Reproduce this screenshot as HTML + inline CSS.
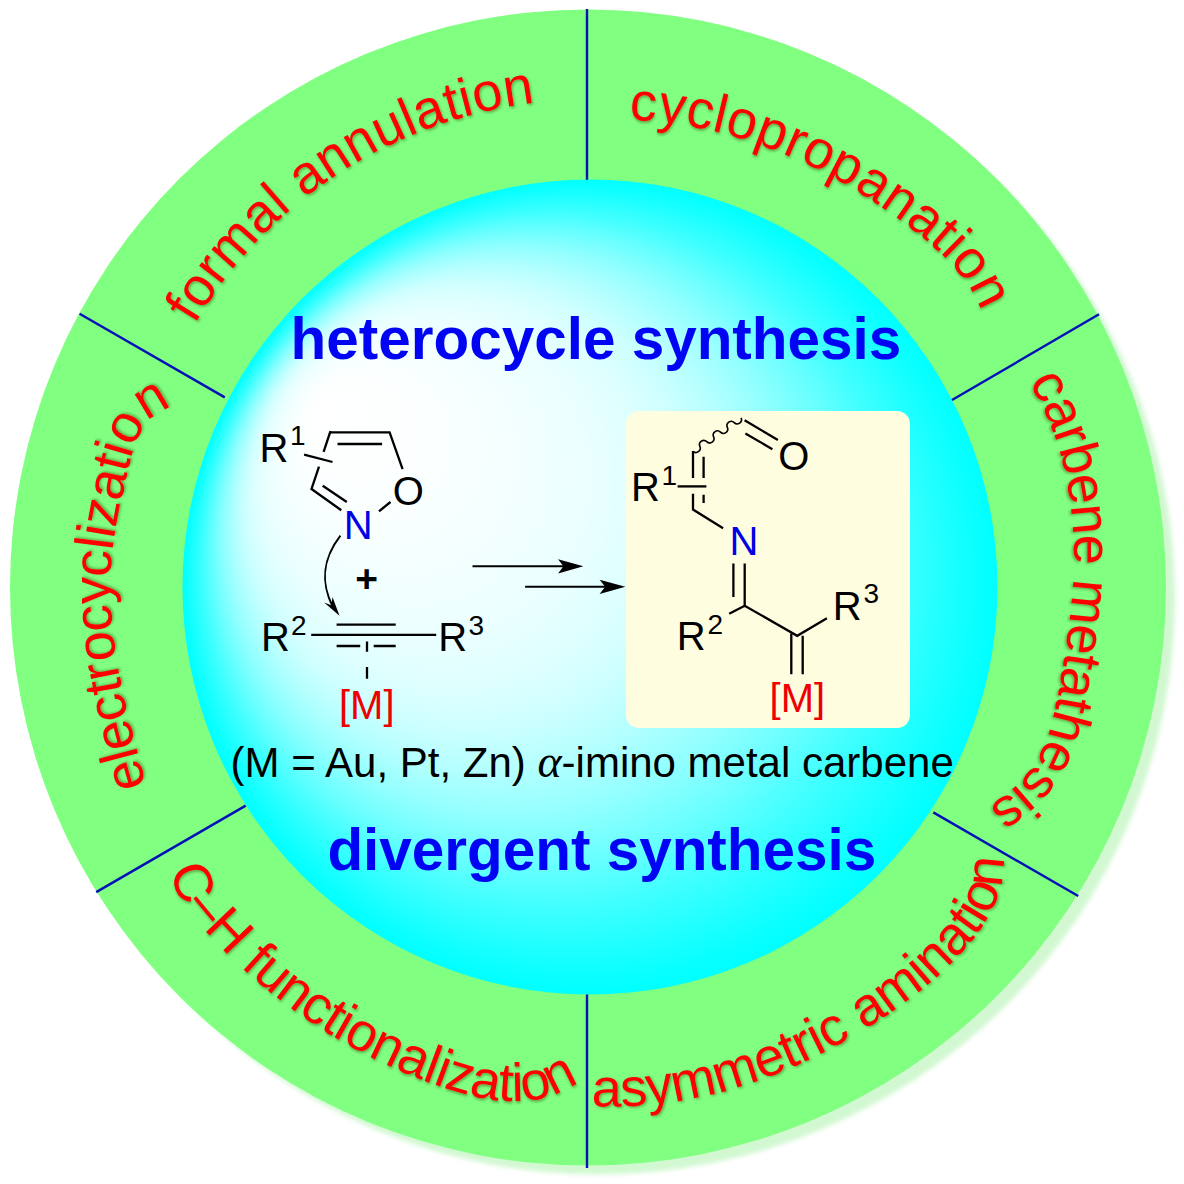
<!DOCTYPE html>
<html><head><meta charset="utf-8"><title>graphical abstract</title>
<style>
html,body{margin:0;padding:0;background:#fff;}
svg{display:block;font-family:"Liberation Sans",Arial,sans-serif;}
</style></head><body>
<svg width="1184" height="1184" viewBox="0 0 1184 1184">
<defs>
<radialGradient id="g" gradientUnits="userSpaceOnUse" cx="590" cy="587" r="407.5" fx="322" fy="406">
<stop offset="0" stop-color="#ffffff"/><stop offset="0.15" stop-color="#fcffff"/><stop offset="0.28" stop-color="#f4ffff"/><stop offset="0.4" stop-color="#eaffff"/><stop offset="0.48" stop-color="#deffff"/><stop offset="0.55" stop-color="#cdffff"/><stop offset="0.62" stop-color="#b4ffff"/><stop offset="0.7" stop-color="#92ffff"/><stop offset="0.78" stop-color="#69ffff"/><stop offset="0.85" stop-color="#42ffff"/><stop offset="0.92" stop-color="#20ffff"/><stop offset="0.97" stop-color="#0affff"/><stop offset="1.0" stop-color="#00ffff"/>
</radialGradient>
<filter id="blur" x="-5%" y="-5%" width="110%" height="110%"><feGaussianBlur stdDeviation="2.2"/></filter>
<filter id="sp1" x="-5%" y="-5%" width="110%" height="110%"><feDropShadow dx="1.3" dy="1.6" stdDeviation="0.9" flood-color="#203010" flood-opacity="0.38"/></filter>
<filter id="sp2" x="-5%" y="-5%" width="110%" height="110%"><feDropShadow dx="0.4" dy="2.0" stdDeviation="0.9" flood-color="#203010" flood-opacity="0.38"/></filter>
<filter id="sp3" x="-5%" y="-5%" width="110%" height="110%"><feDropShadow dx="-1.6" dy="1.3" stdDeviation="0.9" flood-color="#203010" flood-opacity="0.38"/></filter>
<filter id="sp4" x="-5%" y="-5%" width="110%" height="110%"><feDropShadow dx="1.6" dy="1.2" stdDeviation="0.9" flood-color="#203010" flood-opacity="0.38"/></filter>
<filter id="sp5" x="-5%" y="-5%" width="110%" height="110%"><feDropShadow dx="0.6" dy="2.0" stdDeviation="0.9" flood-color="#203010" flood-opacity="0.38"/></filter>
<filter id="sp6" x="-5%" y="-5%" width="110%" height="110%"><feDropShadow dx="1.6" dy="-1.2" stdDeviation="0.9" flood-color="#203010" flood-opacity="0.38"/></filter>
<path id="p1" d="M194.6 324.5 C195.2 323.7 196.7 321.1 197.7 319.4 C198.7 317.7 199.8 316.0 200.8 314.3 C201.9 312.6 202.9 310.9 204.0 309.2 C205.1 307.5 206.2 305.8 207.3 304.1 C208.4 302.5 209.5 300.8 210.6 299.1 C211.7 297.5 212.8 295.8 214.0 294.2 C215.1 292.5 216.3 290.9 217.4 289.3 C218.6 287.7 219.8 286.0 221.0 284.4 C222.1 282.8 223.3 281.2 224.5 279.6 C225.7 278.0 227.0 276.4 228.2 274.9 C229.4 273.3 230.7 271.7 231.9 270.1 C233.2 268.6 234.4 267.0 235.7 265.5 C237.0 263.9 238.2 262.4 239.5 260.9 C240.8 259.4 242.1 257.8 243.4 256.3 C244.8 254.8 246.1 253.3 247.4 251.8 C248.7 250.3 250.1 248.8 251.4 247.4 C252.8 245.9 254.1 244.4 255.5 243.0 C256.9 241.5 258.3 240.1 259.7 238.6 C261.1 237.2 262.5 235.8 263.9 234.4 C265.3 232.9 266.7 231.5 268.1 230.1 C269.5 228.7 271.0 227.3 272.4 226.0 C273.9 224.6 275.3 223.2 276.8 221.8 C278.3 220.5 279.7 219.1 281.2 217.8 C282.7 216.5 284.2 215.1 285.7 213.8 C287.2 212.5 288.7 211.2 290.2 209.9 C291.8 208.6 293.3 207.3 294.8 206.0 C296.4 204.7 297.9 203.4 299.4 202.2 C301.0 200.9 302.6 199.7 304.1 198.4 C305.7 197.2 307.3 196.0 308.9 194.7 C310.5 193.5 312.0 192.3 313.6 191.1 C315.2 189.9 316.9 188.7 318.5 187.6 C320.1 186.4 321.7 185.2 323.3 184.1 C325.0 182.9 326.6 181.8 328.3 180.6 C329.9 179.5 331.6 178.4 333.2 177.3 C334.9 176.1 336.6 175.0 338.2 174.0 C339.9 172.9 341.6 171.8 343.3 170.7 C345.0 169.6 346.7 168.6 348.4 167.5 C350.1 166.5 351.8 165.5 353.5 164.4 C355.2 163.4 357.0 162.4 358.7 161.4 C360.4 160.4 362.2 159.4 363.9 158.4 C365.7 157.5 367.4 156.5 369.2 155.5 C370.9 154.6 372.7 153.6 374.5 152.7 C376.2 151.8 378.0 150.9 379.8 149.9 C381.6 149.0 383.4 148.1 385.1 147.3 C386.9 146.4 388.7 145.5 390.5 144.6 C392.4 143.8 394.2 142.9 396.0 142.1 C397.8 141.2 399.6 140.4 401.4 139.6 C403.3 138.8 405.1 138.0 406.9 137.2 C408.8 136.4 410.6 135.6 412.5 134.9 C414.3 134.1 416.2 133.3 418.0 132.6 C419.9 131.9 421.7 131.1 423.6 130.4 C425.5 129.7 427.3 129.0 429.2 128.3 C431.1 127.6 433.0 126.9 434.9 126.2 C436.7 125.6 438.6 124.9 440.5 124.3 C442.4 123.6 444.3 123.0 446.2 122.4 C448.1 121.7 450.0 121.1 451.9 120.5 C453.8 119.9 455.7 119.3 457.7 118.8 C459.6 118.2 461.5 117.6 463.4 117.1 C465.3 116.5 467.3 116.0 469.2 115.5 C471.1 115.0 473.1 114.5 475.0 114.0 C476.9 113.5 478.9 113.0 480.8 112.5 C482.8 112.0 484.7 111.6 486.7 111.1 C488.6 110.7 490.6 110.2 492.5 109.8 C494.5 109.4 496.4 109.0 498.4 108.6 C500.3 108.2 502.3 107.8 504.3 107.4 C506.2 107.0 508.2 106.7 510.2 106.3 C512.1 106.0 514.1 105.6 516.1 105.3 C518.1 105.0 520.0 104.7 522.0 104.4 C524.0 104.1 526.0 103.8 528.0 103.5 C529.9 103.2 531.9 103.0 533.9 102.7 C535.9 102.5 537.9 102.3 539.9 102.0 C541.9 101.8 543.8 101.6 545.8 101.4 C547.8 101.2 549.8 101.0 551.8 100.8 C553.8 100.7 555.8 100.5 557.8 100.4 C559.8 100.2 562.8 100.0 563.8 100.0"/>
<path id="p2" d="M629.1 119.7 C630.1 119.8 633.1 119.9 635.1 120.0 C637.1 120.1 639.1 120.2 641.1 120.3 C643.1 120.4 645.1 120.6 647.1 120.7 C649.1 120.9 651.1 121.0 653.1 121.2 C655.1 121.4 657.1 121.6 659.1 121.8 C661.0 122.0 663.0 122.3 665.0 122.5 C667.0 122.7 669.0 123.0 671.0 123.3 C672.9 123.5 674.9 123.8 676.9 124.1 C678.9 124.4 680.9 124.7 682.8 125.0 C684.8 125.3 686.8 125.7 688.7 126.0 C690.7 126.4 692.7 126.8 694.6 127.1 C696.6 127.5 698.6 127.9 700.5 128.3 C702.5 128.7 704.4 129.1 706.4 129.6 C708.4 130.0 710.3 130.4 712.2 130.9 C714.2 131.4 716.1 131.8 718.1 132.3 C720.0 132.8 722.0 133.3 723.9 133.8 C725.8 134.3 727.8 134.8 729.7 135.4 C731.6 135.9 733.5 136.4 735.5 137.0 C737.4 137.6 739.3 138.1 741.2 138.7 C743.1 139.3 745.0 139.9 746.9 140.5 C748.8 141.1 750.7 141.8 752.6 142.4 C754.5 143.0 756.4 143.7 758.3 144.3 C760.2 145.0 762.1 145.7 764.0 146.3 C765.8 147.0 767.7 147.7 769.6 148.4 C771.5 149.1 773.3 149.8 775.2 150.6 C777.1 151.3 778.9 152.0 780.8 152.8 C782.6 153.5 784.5 154.3 786.3 155.1 C788.2 155.8 790.0 156.6 791.8 157.4 C793.7 158.2 795.5 159.0 797.3 159.8 C799.2 160.7 801.0 161.5 802.8 162.3 C804.6 163.2 806.4 164.0 808.2 164.9 C810.0 165.7 811.8 166.6 813.6 167.5 C815.4 168.4 817.2 169.2 819.0 170.2 C820.8 171.1 822.6 172.0 824.3 172.9 C826.1 173.8 827.9 174.7 829.6 175.7 C831.4 176.6 833.2 177.6 834.9 178.5 C836.7 179.5 838.4 180.5 840.2 181.4 C841.9 182.4 843.6 183.4 845.4 184.4 C847.1 185.4 848.8 186.4 850.6 187.4 C852.3 188.5 854.0 189.5 855.7 190.5 C857.4 191.6 859.1 192.6 860.8 193.7 C862.5 194.7 864.2 195.8 865.9 196.8 C867.6 197.9 869.3 199.0 871.0 200.1 C872.6 201.2 874.3 202.3 876.0 203.4 C877.6 204.5 879.3 205.6 880.9 206.7 C882.6 207.9 884.2 209.0 885.9 210.1 C887.5 211.3 889.2 212.4 890.8 213.6 C892.4 214.7 894.1 215.9 895.7 217.1 C897.3 218.3 898.9 219.4 900.5 220.6 C902.1 221.8 903.7 223.0 905.3 224.2 C906.9 225.4 908.5 226.6 910.1 227.9 C911.7 229.1 913.3 230.3 914.8 231.5 C916.4 232.8 918.0 234.0 919.5 235.3 C921.1 236.5 922.7 237.8 924.2 239.0 C925.7 240.3 927.3 241.6 928.8 242.9 C930.3 244.2 931.8 245.5 933.3 246.8 C934.8 248.1 936.3 249.5 937.8 250.8 C939.3 252.2 940.7 253.5 942.2 254.9 C943.6 256.3 945.0 257.7 946.5 259.1 C947.9 260.6 949.2 262.0 950.6 263.5 C952.0 264.9 953.3 266.4 954.6 267.9 C955.9 269.4 957.2 271.0 958.5 272.5 C959.8 274.1 961.0 275.6 962.2 277.2 C963.4 278.8 964.6 280.4 965.7 282.1 C966.9 283.7 968.0 285.4 969.1 287.1 C970.1 288.8 971.2 290.5 972.2 292.2 C973.2 293.9 974.1 295.7 975.0 297.5 C975.9 299.2 976.8 301.1 977.6 302.9 C978.5 304.7 979.2 306.5 980.0 308.4 C980.7 310.3 981.4 312.2 982.0 314.1 C982.6 316.0 983.2 317.9 983.7 319.8 C984.2 321.7 984.6 323.7 985.1 325.6 C985.5 327.6 985.8 329.6 986.1 331.6 C986.4 333.5 986.7 336.5 986.8 337.5"/>
<path id="p3" d="M1028.4 382.2 C1028.9 383.0 1030.6 385.6 1031.6 387.3 C1032.6 389.0 1033.6 390.7 1034.6 392.4 C1035.6 394.2 1036.6 395.9 1037.6 397.7 C1038.5 399.4 1039.5 401.2 1040.4 403.0 C1041.3 404.7 1042.2 406.5 1043.1 408.3 C1043.9 410.1 1044.8 411.9 1045.6 413.8 C1046.4 415.6 1047.3 417.4 1048.0 419.3 C1048.8 421.1 1049.6 422.9 1050.4 424.8 C1051.1 426.6 1051.8 428.5 1052.5 430.4 C1053.3 432.2 1053.9 434.1 1054.6 436.0 C1055.3 437.9 1055.9 439.8 1056.6 441.7 C1057.2 443.6 1057.8 445.5 1058.4 447.4 C1059.0 449.3 1059.6 451.2 1060.1 453.1 C1060.7 455.1 1061.2 457.0 1061.7 458.9 C1062.2 460.9 1062.7 462.8 1063.2 464.7 C1063.7 466.7 1064.2 468.6 1064.6 470.6 C1065.0 472.5 1065.5 474.5 1065.9 476.4 C1066.3 478.4 1066.7 480.4 1067.0 482.3 C1067.4 484.3 1067.8 486.3 1068.1 488.2 C1068.4 490.2 1068.8 492.2 1069.1 494.1 C1069.4 496.1 1069.7 498.1 1069.9 500.1 C1070.2 502.1 1070.5 504.1 1070.7 506.0 C1070.9 508.0 1071.2 510.0 1071.4 512.0 C1071.6 514.0 1071.8 516.0 1071.9 518.0 C1072.1 520.0 1072.3 522.0 1072.4 524.0 C1072.6 525.9 1072.7 527.9 1072.8 529.9 C1072.9 531.9 1073.0 533.9 1073.1 535.9 C1073.2 537.9 1073.3 539.9 1073.3 541.9 C1073.4 543.9 1073.4 545.9 1073.5 547.9 C1073.5 549.9 1073.5 551.9 1073.5 553.9 C1073.5 555.9 1073.5 557.9 1073.5 559.9 C1073.5 561.9 1073.5 563.9 1073.4 565.9 C1073.4 567.9 1073.3 569.9 1073.3 571.9 C1073.2 573.9 1073.1 575.9 1073.0 577.9 C1072.9 579.9 1072.8 581.9 1072.7 583.9 C1072.6 585.9 1072.5 587.9 1072.4 589.9 C1072.2 591.9 1072.1 593.9 1071.9 595.9 C1071.8 597.9 1071.6 599.9 1071.4 601.9 C1071.3 603.9 1071.1 605.8 1070.9 607.8 C1070.7 609.8 1070.5 611.8 1070.3 613.8 C1070.1 615.8 1069.9 617.8 1069.6 619.8 C1069.4 621.8 1069.2 623.7 1068.9 625.7 C1068.7 627.7 1068.4 629.7 1068.2 631.7 C1067.9 633.7 1067.7 635.6 1067.4 637.6 C1067.1 639.6 1066.8 641.6 1066.5 643.6 C1066.2 645.5 1066.0 647.5 1065.7 649.5 C1065.4 651.5 1065.0 653.5 1064.7 655.4 C1064.4 657.4 1064.1 659.4 1063.8 661.4 C1063.5 663.3 1063.1 665.3 1062.8 667.3 C1062.5 669.2 1062.1 671.2 1061.8 673.2 C1061.4 675.2 1061.1 677.1 1060.7 679.1 C1060.4 681.1 1060.0 683.0 1059.6 685.0 C1059.3 687.0 1058.9 688.9 1058.5 690.9 C1058.2 692.9 1057.8 694.8 1057.4 696.8 C1057.0 698.8 1056.7 700.7 1056.3 702.7 C1055.9 704.6 1055.5 706.6 1055.1 708.6 C1054.6 710.5 1054.2 712.5 1053.7 714.4 C1053.3 716.4 1052.8 718.3 1052.3 720.2 C1051.8 722.2 1051.3 724.1 1050.8 726.0 C1050.2 728.0 1049.7 729.9 1049.1 731.8 C1048.5 733.7 1047.8 735.6 1047.2 737.5 C1046.5 739.4 1045.8 741.2 1045.0 743.1 C1044.3 744.9 1043.5 746.8 1042.7 748.6 C1041.9 750.4 1041.0 752.2 1040.1 754.0 C1039.2 755.8 1038.3 757.6 1037.3 759.3 C1036.2 761.0 1035.2 762.7 1034.1 764.4 C1033.0 766.1 1031.9 767.7 1030.7 769.3 C1029.5 770.9 1028.3 772.5 1027.0 774.1 C1025.7 775.6 1024.4 777.1 1023.1 778.6 C1021.7 780.1 1020.3 781.5 1018.9 782.9 C1017.5 784.3 1016.0 785.7 1014.6 787.1 C1013.1 788.4 1011.6 789.7 1010.1 791.0 C1008.5 792.3 1007.0 793.6 1005.4 794.8 C1003.8 796.0 1002.2 797.2 1000.6 798.4 C999.0 799.5 997.3 800.7 995.6 801.8 C994.0 802.9 992.3 804.0 990.6 805.0 C988.9 806.1 987.2 807.1 985.5 808.1 C983.7 809.2 982.0 810.1 980.2 811.1 C978.5 812.1 976.7 813.0 974.9 813.9 C973.2 814.8 971.4 815.7 969.6 816.5 C967.7 817.4 965.0 818.6 964.1 819.0"/>
<path id="p4" d="M591.6 1105.8 C592.6 1105.9 595.6 1106.0 597.6 1106.1 C599.6 1106.2 601.6 1106.3 603.6 1106.3 C605.6 1106.4 607.6 1106.4 609.6 1106.4 C611.6 1106.4 613.6 1106.4 615.6 1106.4 C617.6 1106.4 619.6 1106.4 621.6 1106.3 C623.6 1106.3 625.6 1106.2 627.6 1106.1 C629.6 1106.1 631.6 1106.0 633.6 1105.9 C635.6 1105.8 637.6 1105.6 639.6 1105.5 C641.6 1105.4 643.6 1105.2 645.6 1105.1 C647.6 1104.9 649.5 1104.7 651.5 1104.5 C653.5 1104.3 655.5 1104.1 657.5 1103.9 C659.5 1103.7 661.5 1103.4 663.5 1103.2 C665.5 1102.9 667.4 1102.7 669.4 1102.4 C671.4 1102.1 673.4 1101.8 675.4 1101.5 C677.3 1101.2 679.3 1100.9 681.3 1100.6 C683.2 1100.3 685.2 1099.9 687.2 1099.6 C689.2 1099.2 691.1 1098.8 693.1 1098.4 C695.0 1098.1 697.0 1097.7 699.0 1097.2 C700.9 1096.8 702.9 1096.4 704.8 1096.0 C706.8 1095.5 708.7 1095.1 710.7 1094.6 C712.6 1094.2 714.6 1093.7 716.5 1093.2 C718.4 1092.7 720.4 1092.2 722.3 1091.7 C724.2 1091.2 726.2 1090.7 728.1 1090.1 C730.0 1089.6 731.9 1089.0 733.9 1088.5 C735.8 1087.9 737.7 1087.3 739.6 1086.7 C741.5 1086.2 743.4 1085.6 745.3 1084.9 C747.2 1084.3 749.1 1083.7 751.0 1083.1 C752.9 1082.4 754.8 1081.8 756.7 1081.1 C758.6 1080.5 760.5 1079.8 762.4 1079.1 C764.3 1078.5 766.1 1077.8 768.0 1077.1 C769.9 1076.4 771.7 1075.7 773.6 1074.9 C775.5 1074.2 777.3 1073.5 779.2 1072.7 C781.0 1072.0 782.9 1071.2 784.7 1070.5 C786.6 1069.7 788.4 1068.9 790.3 1068.1 C792.1 1067.3 793.9 1066.5 795.8 1065.7 C797.6 1064.9 799.4 1064.1 801.2 1063.3 C803.1 1062.4 804.9 1061.6 806.7 1060.8 C808.5 1059.9 810.3 1059.0 812.1 1058.2 C813.9 1057.3 815.7 1056.4 817.5 1055.5 C819.3 1054.6 821.1 1053.7 822.9 1052.8 C824.6 1051.9 826.4 1051.0 828.2 1050.1 C830.0 1049.2 831.7 1048.2 833.5 1047.3 C835.3 1046.3 837.0 1045.4 838.8 1044.4 C840.5 1043.5 842.3 1042.5 844.0 1041.5 C845.8 1040.5 847.5 1039.5 849.2 1038.5 C851.0 1037.5 852.7 1036.5 854.4 1035.5 C856.1 1034.5 857.9 1033.5 859.6 1032.4 C861.3 1031.4 863.0 1030.4 864.7 1029.3 C866.4 1028.3 868.1 1027.2 869.8 1026.1 C871.5 1025.1 873.2 1024.0 874.8 1022.9 C876.5 1021.8 878.2 1020.8 879.9 1019.7 C881.5 1018.6 883.2 1017.5 884.9 1016.3 C886.5 1015.2 888.2 1014.1 889.8 1013.0 C891.5 1011.9 893.1 1010.7 894.8 1009.6 C896.4 1008.4 898.1 1007.3 899.7 1006.1 C901.3 1004.9 902.9 1003.8 904.5 1002.6 C906.2 1001.4 907.8 1000.2 909.4 999.0 C911.0 997.8 912.6 996.6 914.1 995.4 C915.7 994.2 917.3 992.9 918.9 991.7 C920.4 990.5 922.0 989.2 923.5 987.9 C925.1 986.7 926.6 985.4 928.2 984.1 C929.7 982.8 931.2 981.5 932.7 980.2 C934.3 978.9 935.8 977.6 937.2 976.3 C938.7 974.9 940.2 973.6 941.7 972.2 C943.2 970.9 944.6 969.5 946.1 968.1 C947.5 966.7 948.9 965.4 950.4 963.9 C951.8 962.5 953.2 961.1 954.6 959.7 C956.0 958.3 957.4 956.8 958.7 955.4 C960.1 953.9 961.5 952.4 962.8 950.9 C964.2 949.5 965.5 948.0 966.8 946.5 C968.1 944.9 969.4 943.4 970.7 941.9 C971.9 940.3 973.2 938.8 974.4 937.2 C975.6 935.6 976.9 934.0 978.0 932.4 C979.2 930.8 980.4 929.2 981.5 927.5 C982.6 925.9 983.7 924.2 984.8 922.5 C985.9 920.8 986.9 919.1 987.9 917.4 C988.9 915.6 989.9 913.9 990.8 912.1 C991.7 910.3 992.6 908.6 993.5 906.7 C994.3 904.9 995.1 903.1 995.9 901.2 C996.6 899.4 997.4 897.5 998.0 895.6 C998.7 893.7 999.3 891.8 999.8 889.9 C1000.4 888.0 1000.8 886.0 1001.3 884.1 C1001.7 882.1 1002.0 880.2 1002.3 878.2 C1002.6 876.2 1002.8 874.2 1003.0 872.2 C1003.1 870.2 1003.2 868.2 1003.1 866.2 C1003.1 864.2 1003.0 862.2 1002.8 860.2 C1002.7 858.2 1002.4 856.3 1002.0 854.3 C1001.7 852.3 1001.2 850.4 1000.7 848.4 C1000.2 846.5 999.6 844.6 998.9 842.7 C998.2 840.9 997.4 839.0 996.6 837.2 C995.7 835.4 994.2 832.8 993.8 831.9"/>
<path id="p5" d="M171.6 870.0 C171.7 871.0 171.8 874.0 172.1 876.0 C172.4 878.0 172.8 879.9 173.3 881.9 C173.8 883.8 174.4 885.7 175.1 887.6 C175.8 889.5 176.6 891.3 177.4 893.1 C178.2 894.9 179.2 896.7 180.1 898.5 C181.1 900.2 182.2 901.9 183.3 903.6 C184.3 905.3 185.5 906.9 186.7 908.5 C187.8 910.1 189.1 911.7 190.3 913.3 C191.5 914.9 192.8 916.4 194.1 918.0 C195.4 919.5 196.7 921.0 198.0 922.5 C199.3 924.0 200.6 925.5 201.9 927.0 C203.3 928.5 204.6 930.0 205.9 931.5 C207.3 933.0 208.6 934.5 210.0 935.9 C211.3 937.4 212.7 938.9 214.1 940.3 C215.4 941.8 216.8 943.2 218.2 944.7 C219.6 946.1 221.0 947.5 222.4 949.0 C223.8 950.4 225.2 951.8 226.6 953.2 C228.0 954.6 229.5 956.0 230.9 957.4 C232.3 958.8 233.8 960.2 235.2 961.6 C236.7 963.0 238.1 964.3 239.6 965.7 C241.0 967.1 242.5 968.4 244.0 969.8 C245.5 971.1 247.0 972.5 248.4 973.8 C249.9 975.1 251.4 976.5 252.9 977.8 C254.4 979.1 256.0 980.4 257.5 981.7 C259.0 983.0 260.5 984.3 262.1 985.6 C263.6 986.9 265.1 988.1 266.7 989.4 C268.2 990.7 269.8 991.9 271.3 993.2 C272.9 994.4 274.5 995.7 276.0 996.9 C277.6 998.2 279.2 999.4 280.8 1000.6 C282.4 1001.8 283.9 1003.0 285.5 1004.2 C287.1 1005.4 288.8 1006.6 290.4 1007.8 C292.0 1009.0 293.6 1010.2 295.2 1011.3 C296.8 1012.5 298.5 1013.7 300.1 1014.8 C301.7 1016.0 303.4 1017.1 305.0 1018.2 C306.7 1019.4 308.3 1020.5 310.0 1021.6 C311.7 1022.7 313.3 1023.8 315.0 1024.9 C316.7 1026.0 318.4 1027.1 320.0 1028.2 C321.7 1029.3 323.4 1030.3 325.1 1031.4 C326.8 1032.5 328.5 1033.5 330.2 1034.6 C331.9 1035.6 333.6 1036.6 335.3 1037.7 C337.1 1038.7 338.8 1039.7 340.5 1040.7 C342.2 1041.7 344.0 1042.7 345.7 1043.7 C347.4 1044.7 349.2 1045.7 350.9 1046.6 C352.7 1047.6 354.4 1048.6 356.2 1049.5 C358.0 1050.5 359.7 1051.4 361.5 1052.3 C363.3 1053.3 365.0 1054.2 366.8 1055.1 C368.6 1056.0 370.4 1056.9 372.2 1057.8 C374.0 1058.7 375.8 1059.6 377.6 1060.5 C379.4 1061.4 381.2 1062.2 383.0 1063.1 C384.8 1063.9 386.6 1064.8 388.4 1065.6 C390.2 1066.5 392.0 1067.3 393.9 1068.1 C395.7 1068.9 397.5 1069.7 399.3 1070.5 C401.2 1071.3 403.0 1072.1 404.9 1072.9 C406.7 1073.7 408.5 1074.4 410.4 1075.2 C412.2 1076.0 414.1 1076.7 416.0 1077.5 C417.8 1078.2 419.7 1078.9 421.5 1079.6 C423.4 1080.4 425.3 1081.1 427.2 1081.8 C429.0 1082.5 430.9 1083.2 432.8 1083.8 C434.7 1084.5 436.5 1085.2 438.4 1085.9 C440.3 1086.5 442.2 1087.2 444.1 1087.8 C446.0 1088.4 447.9 1089.1 449.8 1089.7 C451.7 1090.3 453.6 1090.9 455.5 1091.4 C457.5 1092.0 459.4 1092.6 461.3 1093.1 C463.2 1093.6 465.2 1094.2 467.1 1094.6 C469.0 1095.1 471.0 1095.6 472.9 1096.1 C474.9 1096.5 476.8 1096.9 478.8 1097.3 C480.8 1097.7 482.7 1098.1 484.7 1098.4 C486.7 1098.8 488.6 1099.1 490.6 1099.4 C492.6 1099.7 494.6 1099.9 496.6 1100.1 C498.6 1100.4 500.6 1100.5 502.6 1100.7 C504.5 1100.8 506.5 1101.0 508.5 1101.0 C510.5 1101.1 512.5 1101.2 514.5 1101.2 C516.5 1101.1 518.5 1101.1 520.5 1101.0 C522.5 1100.9 524.5 1100.8 526.5 1100.6 C528.5 1100.5 530.5 1100.2 532.5 1100.0 C534.5 1099.7 536.4 1099.4 538.4 1099.0 C540.4 1098.6 542.3 1098.2 544.3 1097.7 C546.2 1097.2 548.1 1096.7 550.0 1096.1 C551.9 1095.5 553.8 1094.8 555.7 1094.1 C557.6 1093.4 559.4 1092.6 561.2 1091.8 C563.0 1090.9 564.8 1090.0 566.6 1089.1 C568.3 1088.1 570.0 1087.1 571.7 1086.0 C573.4 1084.9 575.0 1083.7 576.6 1082.5 C578.2 1081.3 579.7 1080.0 581.2 1078.6 C582.7 1077.3 584.1 1075.9 585.5 1074.4 C586.8 1073.0 588.1 1071.4 589.4 1069.9 C590.6 1068.3 591.8 1066.7 592.9 1065.0 C594.0 1063.4 595.5 1060.8 596.0 1059.9"/>
<path id="p6" d="M146.4 785.3 C146.2 784.3 145.4 781.4 144.9 779.5 C144.3 777.6 143.8 775.6 143.3 773.7 C142.8 771.8 142.2 769.9 141.7 767.9 C141.2 766.0 140.7 764.1 140.1 762.1 C139.6 760.2 139.1 758.3 138.6 756.3 C138.1 754.4 137.5 752.5 137.0 750.5 C136.5 748.6 136.0 746.7 135.5 744.7 C135.0 742.8 134.5 740.9 134.0 738.9 C133.5 737.0 133.0 735.1 132.5 733.1 C132.0 731.2 131.5 729.2 131.0 727.3 C130.5 725.4 130.1 723.4 129.6 721.5 C129.1 719.5 128.6 717.6 128.2 715.7 C127.7 713.7 127.2 711.8 126.8 709.8 C126.3 707.9 125.9 705.9 125.4 704.0 C125.0 702.0 124.6 700.1 124.1 698.1 C123.7 696.2 123.3 694.2 122.9 692.2 C122.5 690.3 122.0 688.3 121.6 686.4 C121.2 684.4 120.9 682.4 120.5 680.5 C120.1 678.5 119.7 676.6 119.3 674.6 C119.0 672.6 118.6 670.7 118.3 668.7 C117.9 666.7 117.6 664.7 117.3 662.8 C116.9 660.8 116.6 658.8 116.3 656.9 C116.0 654.9 115.7 652.9 115.4 650.9 C115.1 648.9 114.8 647.0 114.6 645.0 C114.3 643.0 114.1 641.0 113.8 639.0 C113.6 637.0 113.3 635.1 113.1 633.1 C112.9 631.1 112.7 629.1 112.5 627.1 C112.3 625.1 112.1 623.1 112.0 621.1 C111.8 619.1 111.6 617.1 111.5 615.1 C111.4 613.1 111.2 611.2 111.1 609.2 C111.0 607.2 110.9 605.2 110.8 603.2 C110.8 601.2 110.7 599.2 110.6 597.2 C110.6 595.2 110.5 593.2 110.5 591.2 C110.5 589.2 110.5 587.2 110.5 585.2 C110.5 583.2 110.5 581.2 110.6 579.2 C110.6 577.2 110.7 575.2 110.8 573.2 C110.8 571.2 110.9 569.2 111.1 567.2 C111.2 565.2 111.3 563.2 111.4 561.2 C111.6 559.2 111.8 557.2 111.9 555.2 C112.1 553.2 112.3 551.2 112.6 549.2 C112.8 547.3 113.0 545.3 113.3 543.3 C113.6 541.3 113.8 539.3 114.1 537.3 C114.4 535.4 114.7 533.4 115.1 531.4 C115.4 529.4 115.7 527.5 116.1 525.5 C116.4 523.5 116.8 521.6 117.2 519.6 C117.6 517.6 117.9 515.7 118.3 513.7 C118.7 511.8 119.1 509.8 119.6 507.8 C120.0 505.9 120.4 503.9 120.8 502.0 C121.2 500.0 121.7 498.1 122.1 496.1 C122.6 494.2 123.0 492.2 123.5 490.3 C123.9 488.3 124.3 486.4 124.8 484.4 C125.2 482.5 125.7 480.5 126.1 478.6 C126.6 476.6 127.0 474.7 127.5 472.7 C127.9 470.8 128.4 468.8 128.8 466.9 C129.3 464.9 129.7 463.0 130.2 461.0 C130.7 459.1 131.1 457.1 131.6 455.2 C132.2 453.3 132.7 451.4 133.3 449.4 C133.9 447.5 134.5 445.6 135.2 443.8 C135.9 441.9 136.6 440.0 137.5 438.2 C138.3 436.4 139.2 434.6 140.2 432.8 C141.1 431.1 142.2 429.4 143.3 427.8 C144.5 426.1 145.7 424.5 147.0 423.0 C148.4 421.6 149.8 420.1 151.3 418.8 C152.8 417.5 154.3 416.2 156.0 415.1 C157.6 413.9 159.3 412.9 161.1 411.9 C162.8 411.0 164.6 410.1 166.5 409.4 C168.3 408.6 170.3 408.0 172.2 407.4 C174.1 406.9 176.1 406.5 178.0 406.2 C180.0 405.9 182.0 405.7 184.0 405.6 C186.0 405.5 188.0 405.5 190.0 405.6 C192.0 405.8 194.0 406.0 196.0 406.4 C197.9 406.7 200.8 407.5 201.8 407.8"/>
</defs>
<rect width="1184" height="1184" fill="#fff"/>
<circle cx="598" cy="597.5" r="577" fill="#d2f8d2" filter="url(#blur)"/>
<circle cx="588" cy="587.5" r="578" fill="#80ff80"/>
<circle cx="590" cy="587" r="407.5" fill="url(#g)"/>
<g stroke="#0010b8" stroke-width="2.4" stroke-linecap="butt"><line x1="587.0" y1="9" x2="587.0" y2="179.8"/><line x1="587.0" y1="994.5" x2="587.0" y2="1168"/><line x1="79.6" y1="313.8" x2="224.8" y2="397.4"/><line x1="952" y1="400" x2="1099" y2="314.3"/><line x1="96.2" y1="892.1" x2="245.7" y2="805.6"/><line x1="933.3" y1="812.4" x2="1078.2" y2="896"/></g>
<text font-size="54.00" letter-spacing="0.44" fill="#ff0000" filter="url(#sp1)"><textPath href="#p1">formal annulation</textPath></text>
<text font-size="54.00" letter-spacing="0.62" fill="#ff0000" filter="url(#sp2)"><textPath href="#p2">cyclopropanation</textPath></text>
<text font-size="54.00" letter-spacing="-0.73" fill="#ff0000" filter="url(#sp3)"><textPath href="#p3">carbene metathesis</textPath></text>
<text font-size="54.00" letter-spacing="-0.37" fill="#ff0000" filter="url(#sp4)"><textPath href="#p4">asymmetric amination</textPath></text>
<text font-size="54.00" letter-spacing="-0.50" fill="#ff0000" filter="url(#sp5)"><textPath href="#p5">C–H functionalization</textPath></text>
<text font-size="54.00" letter-spacing="-0.49" fill="#ff0000" filter="url(#sp6)"><textPath href="#p6">electrocyclization</textPath></text>
<g fill="#0004f2" font-weight="bold" font-size="58.45">
<text x="290.6" y="359.3">heterocycle synthesis</text>
<text x="327.4" y="870">divergent synthesis</text>
</g>
<rect x="626" y="411" width="284" height="317" rx="13" ry="13" fill="#fffde0"/>
<g stroke="#000" stroke-width="2.3" fill="none" stroke-linecap="butt">
<path d="M330.1 432.3H389.6L402.6 469.1"/>
<path d="M337.5 444H382.1"/>
<path d="M330.5 431.2L323.6 451.8M319 466.7L311.5 489L341.3 510.3"/>
<path d="M322.7 485.8L346.8 502"/>
<path d="M390.5 502L379 511.3"/>
<path d="M304.1 454.6L332.5 462"/>
<path d="M340.4 535.7C320.4 561.8 321.8 584.8 332.6 606.5" stroke-width="1.9"/>
<path d="M311.2 634.8H436.2"/>
<path d="M336.6 624.7H395.7"/>
<path d="M336.6 646H360.2M373.7 646H395.7"/>
<path d="M367 641.6V651.7M367 666.9V678.7"/>
<path d="M472.5 566.3H564" stroke-width="2.1"/>
<path d="M525.1 586.8H606" stroke-width="2.1"/>
<path d="M677.6 486.4H706.4"/>
<path d="M693 451.1V478M693 493.8V509.6L723.1 528.2"/>
<path d="M703.6 456.7V478M703.6 494.8V503.1"/>
<path d="M693.0 451.2 a4.25 4.25 0 0 0 6.87 -4.76 a4.25 4.25 0 0 1 6.87 -4.76 a4.25 4.25 0 0 0 6.87 -4.76 a4.25 4.25 0 0 1 6.87 -4.76 a4.25 4.25 0 0 0 6.87 -4.76 a4.25 4.25 0 0 1 6.87 -4.76 a4.25 4.25 0 0 0 6.87 -4.76" stroke-width="1.6"/>
<path d="M744.6 420.3L777.9 439.9M745.4 433.4L772.4 449.2"/>
<path d="M733.4 563.5V597M744.7 563.5V605.7"/>
<path d="M729.2 613.8L744.7 605.7L797.2 635.8L826.9 618.2"/>
<path d="M791.3 633.6V674.2M802.7 635.8V674.2"/>
</g>
<g fill="#000" stroke="none">
<path d="M339.5 615.7L324.1 602.6L331.3 605.2L332.5 597.1Z"/>
<path d="M583.4 566.3L558.1 559.2L563.4 566.3L558.1 573.4Z"/>
<path d="M625.4 586.8L599.6 579.7L605.2 586.8L599.6 593.9Z"/>
</g>
<g font-size="40" fill="#000">
<text x="259.5" y="461.7">R<tspan x="290" y="445.3" font-size="28">1</tspan></text>
<text x="392.7" y="504.6">O</text>
<text x="343.8" y="539.1" fill="#0000e6">N</text>
<text x="355.3" y="592" font-weight="bold" font-size="39">+</text>
<text x="260.9" y="650.7">R<tspan x="291" y="635" font-size="28">2</tspan></text>
<text x="438.3" y="650.7">R<tspan x="468.5" y="635" font-size="28">3</tspan></text>
<text x="339" y="719.3" fill="#ee0000">[M]</text>
<text x="630.9" y="501.3">R<tspan x="661.5" y="484.5" font-size="28">1</tspan></text>
<text x="778.2" y="470.4">O</text>
<text x="729.4" y="555.1" fill="#0000e6">N</text>
<text x="676.8" y="650">R<tspan x="707.5" y="633.6" font-size="28">2</tspan></text>
<text x="832.7" y="620.4">R<tspan x="863.5" y="602.8" font-size="28">3</tspan></text>
<text x="769.6" y="711.5" fill="#ee0000">[M]</text>
</g>
<text id="cap" x="230.5" y="776.5" font-size="42" fill="#000">(M = Au, Pt, Zn) <tspan font-family="'Liberation Serif','DejaVu Serif',serif" font-style="italic" font-size="46">α</tspan>-imino metal carbene</text>

</svg>
</body></html>
